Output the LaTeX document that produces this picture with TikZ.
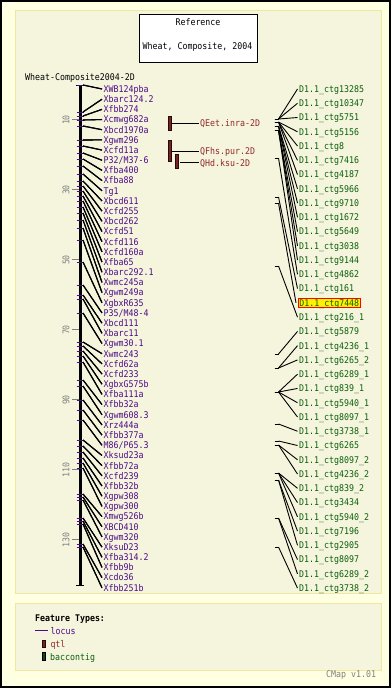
\documentclass[tikz,border=0pt]{standalone}
\usepackage{fontspec}
\newfontfamily\pix[FakeStretch=0.9]{DejaVu Sans Mono}
\definecolor{outerbg}{RGB}{255,255,226}
\definecolor{innerbg}{RGB}{245,245,222}
\definecolor{panelborder}{RGB}{240,232,160}
\definecolor{locpurple}{RGB}{75,10,135}
\definecolor{ctggreen}{RGB}{10,95,10}
\definecolor{qtltext}{RGB}{145,40,40}
\definecolor{qtlfill}{RGB}{120,35,35}
\definecolor{bacfill}{RGB}{25,70,25}
\definecolor{tickgray}{RGB}{128,128,128}
\tikzset{
  txt/.style={font=\pix\fontsize{9.2}{10}\selectfont, inner sep=0pt, text height=6.7pt, text depth=0pt, anchor=west},
  loc/.style={txt, text=locpurple},
  ctg/.style={txt, text=ctggreen},
  conn/.style={draw=black, line width=0.9pt},
  locconn/.style={draw=black, line width=1.1pt},
  loctick/.style={draw=locpurple, line width=1pt},
  qtlbar/.style={draw=black!70!qtlfill, fill=qtlfill, line width=0.5pt, minimum width=3.4pt, inner sep=0pt},
}
\newcommand\mylocus[3]{%
  \pgfmathsetmacro\myly{89+10.18*(#1-1)}%
  \draw[loctick] (76.5,#3) -- (83.5,#3);
  \coordinate (fe#1) at (83,#3);
  \coordinate (le#1) at (102,\myly);
  \node[loc] (lo#1) at (103.5,\myly) {#2};
  \draw[locconn] (fe#1) -- (le#1);
}
\newcommand\myctg[4][]{%
  \pgfmathsetmacro\mycy{89+14.26*(#2-1)}%
  \coordinate (s#2) at (278.5,#4);
  \draw[conn] (274.5,#4) -- (s#2);
  \node[ctg,#1] (c#2) at (299,\mycy) {#3};
  \draw[conn] (s#2) -- ([xshift=-1.5pt]c#2.west);
}
\begin{document}
\begin{tikzpicture}[x=1pt,y=-1pt]
\useasboundingbox (0,0) rectangle (391,688);
\fill[outerbg] (0,0) rectangle (391,688);
\draw[black, line width=1.6pt] (0.8,0.8) rectangle (390.2,687.2);
\filldraw[fill=innerbg, draw=panelborder, line width=1pt] (15,10) rectangle (381,593);
\filldraw[fill=innerbg, draw=panelborder, line width=1pt] (15,603) rectangle (381,670);

% title box
\node[draw=black, fill=white, line width=0.8pt, minimum width=118pt, minimum height=48.7pt, inner sep=0pt] (title) at (198.5,38.35) {};
\node[txt, anchor=center] (tref) at (198,22.3) {Reference};
\node[txt, anchor=center] (twheat) at (197.5,45.7) {Wheat, Composite, 2004};
\node[txt] (mapname) at (25,77) {Wheat-Composite2004-2D};

% axis
\coordinate (atop) at (80,85);
\coordinate (abot) at (80,585);
\draw[line width=3pt] (atop) -- (abot);
\draw[line width=1pt] (76,85) -- (84,85);
\draw[line width=1pt] (76,585) -- (84,585);

% scale ticks
\foreach \v in {10,30,50,70,90,110,130}{
  \pgfmathsetmacro\ty{84+3.5*\v}
  \draw[tickgray, line width=0.8pt] (72,\ty) -- (79,\ty);
  \node[txt, text=tickgray, anchor=center, rotate=90] (tk\v) at (66,\ty+1) {\v};
}

% loci
\mylocus{1}{XWB124pba}{85}
\mylocus{2}{Xbarc124.2}{112}
\mylocus{3}{Xfbb274}{116}
\mylocus{4}{Xcmwg682a}{120}
\mylocus{5}{Xbcd1970a}{126}
\mylocus{6}{Xgwm296}{140}
\mylocus{7}{Xcfd11a}{146}
\mylocus{8}{P32/M37-6}{153}
\mylocus{9}{Xfba400}{159}
\mylocus{10}{Xfba88}{166}
\mylocus{11}{Tg1}{174}
\mylocus{12}{Xbcd611}{181}
\mylocus{13}{Xcfd255}{186}
\mylocus{14}{Xbcd262}{191}
\mylocus{15}{Xcfd51}{196}
\mylocus{16}{Xcfd116}{201}
\mylocus{17}{Xcfd160a}{207}
\mylocus{18}{Xfba65}{213}
\mylocus{19}{Xbarc292.1}{220}
\mylocus{20}{Xwmc245a}{228}
\mylocus{21}{Xgwm249a}{240}
\mylocus{22}{XgbxR635}{262}
\mylocus{23}{P35/M48-4}{285}
\mylocus{24}{Xbcd111}{295}
\mylocus{25}{Xbarc11}{299}
\mylocus{26}{Xgwm30.1}{313}
\mylocus{27}{Xwmc243}{342}
\mylocus{28}{Xcfd62a}{346}
\mylocus{29}{Xcfd233}{351}
\mylocus{30}{XgbxG575b}{356}
\mylocus{31}{Xfba111a}{362}
\mylocus{32}{Xfbb32a}{380}
\mylocus{33}{Xgwm608.3}{386}
\mylocus{34}{Xrz444a}{400}
\mylocus{35}{Xfbb377a}{410}
\mylocus{36}{M86/P65.3}{420}
\mylocus{37}{Xksud23a}{440}
\mylocus{38}{Xfbb72a}{446}
\mylocus{39}{Xcfd239}{452}
\mylocus{40}{Xfbb32b}{458}
\mylocus{41}{Xgpw308}{463}
\mylocus{42}{Xgpw300}{468}
\mylocus{43}{Xmwg526b}{494}
\mylocus{44}{XBCD410}{497}
\mylocus{45}{Xgwm320}{500}
\mylocus{46}{XksuD23}{518}
\mylocus{47}{Xfba314.2}{521}
\mylocus{48}{Xfbb9b}{524}
\mylocus{49}{Xcdo36}{544}
\mylocus{50}{Xfbb251b}{547}

% QTLs
\node[qtlbar, minimum height=14.7pt] (q1) at (170,123.35) {};
\node[qtlbar, minimum height=21.3pt] (q2) at (170,150.65) {};
\node[qtlbar, minimum height=14.7pt] (q3) at (176.9,161.35) {};
\node[txt, text=qtltext] (qt1) at (200,123.3) {QEet.inra-2D};
\node[txt, text=qtltext] (qt2) at (200,151) {QFhs.pur.2D};
\node[txt, text=qtltext] (qt3) at (200,162.7) {QHd.ksu-2D};
\draw[conn] (q1.east |- qt1.west) -- ([xshift=-1pt]qt1.west);
\draw[conn] (q2.east |- qt2.west) -- ([xshift=-1pt]qt2.west);
\draw[conn] ([xshift=1.5pt]q3.east |- qt3.west) -- ([xshift=-1pt]qt3.west);

% contigs
\myctg{1}{D1.1\_ctg13285}{119}
\myctg{2}{D1.1\_ctg10347}{119}
\myctg{3}{D1.1\_ctg5751}{119}
\myctg{4}{D1.1\_ctg5156}{122}
\myctg{5}{D1.1\_ctg8}{122}
\myctg{6}{D1.1\_ctg7416}{122}
\myctg{7}{D1.1\_ctg4187}{122}
\myctg{8}{D1.1\_ctg5966}{126}
\myctg{9}{D1.1\_ctg9710}{126}
\myctg{10}{D1.1\_ctg1672}{126}
\myctg{11}{D1.1\_ctg5649}{130}
\myctg{12}{D1.1\_ctg3038}{130}
\myctg{13}{D1.1\_ctg9144}{130}
\myctg{14}{D1.1\_ctg4862}{158}
\myctg{15}{D1.1\_ctg161}{197}
\myctg[fill=yellow, draw=red, line width=0.8pt, inner xsep=1.5pt, inner ysep=1.6pt, xshift=-1.5pt]{16}{D1.1\_ctg7448}{203}
\myctg{17}{D1.1\_ctg216\_1}{266}
\myctg{18}{D1.1\_ctg5879}{354}
\myctg{19}{D1.1\_ctg4236\_1}{368}
\myctg{20}{D1.1\_ctg6265\_2}{368}
\myctg{21}{D1.1\_ctg6289\_1}{392}
\myctg{22}{D1.1\_ctg839\_1}{392}
\myctg{23}{D1.1\_ctg5940\_1}{392}
\myctg{24}{D1.1\_ctg8097\_1}{392}
\myctg{25}{D1.1\_ctg3738\_1}{424}
\myctg{26}{D1.1\_ctg6265}{441}
\myctg{27}{D1.1\_ctg8097\_2}{445}
\myctg{28}{D1.1\_ctg4236\_2}{445}
\myctg{29}{D1.1\_ctg839\_2}{473}
\myctg{30}{D1.1\_ctg3434}{473}
\myctg{31}{D1.1\_ctg5940\_2}{473}
\myctg{32}{D1.1\_ctg7196}{480}
\myctg{33}{D1.1\_ctg2905}{480}
\myctg{34}{D1.1\_ctg8097}{518}
\myctg{35}{D1.1\_ctg6289\_2}{518}
\myctg{36}{D1.1\_ctg3738\_2}{547}

% legend
\node[txt, font=\pix\bfseries\fontsize{9.2}{10}\selectfont] (ft) at (35,617.7) {Feature Types:};
\coordinate (lg1) at (35,630.7);
\coordinate (lg2) at (47.5,630.7);
\draw[locpurple, line width=0.9pt] (lg1) -- (lg2);
\node[loc] (lgloc) at (50.5,630.7) {locus};
\node[qtlbar, minimum height=7.5pt] (lgqbox) at (43.8,643.8) {};
\node[txt, text=qtltext] (lgqtl) at (50.3,644) {qtl};
\node[draw=black, fill=bacfill, line width=0.5pt, minimum width=3.4pt, minimum height=8pt, inner sep=0pt] (lgbbox) at (43.8,656.7) {};
\node[ctg] (lgbac) at (50,657) {baccontig};
\node[txt, text=tickgray] (ver) at (326,674.3) {CMap v1.01};

% locus connectors, second pass so they render dark enough
\foreach \k in {1,...,50}{
  \draw[locconn] (fe\k) -- (le\k);
}
\end{tikzpicture}
\end{document}
